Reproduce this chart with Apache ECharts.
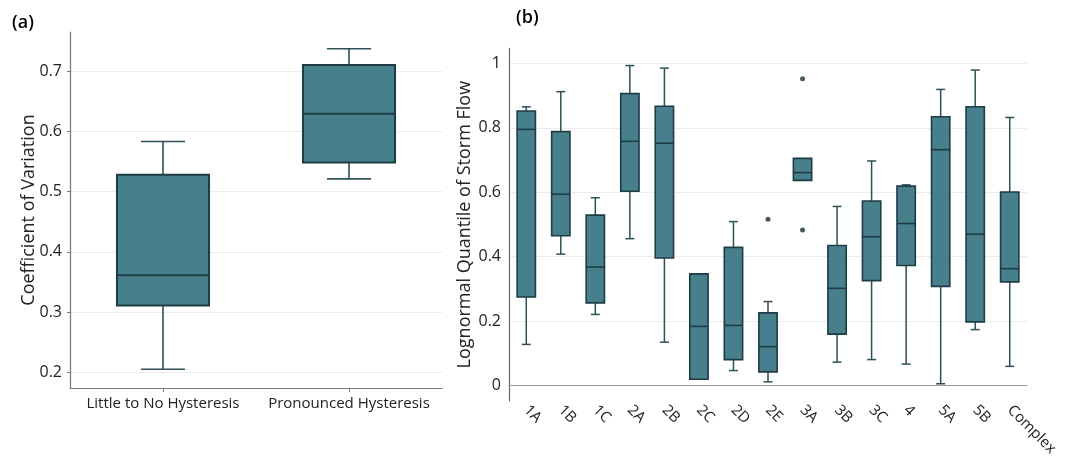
<!DOCTYPE html>
<html>
<head>
<meta charset="utf-8">
<script src="https://cdn.jsdelivr.net/npm/echarts@6/dist/echarts.min.js"></script>
<style>
  html, body { margin: 0; padding: 0; background: #fff; }
  #chart { width: 1065px; height: 459px; }
</style>
</head>
<body>
<div id="chart"></div>
<script>
// Panel (a): coefficient of variation by hysteresis class
const hystCategories = ['Little to No Hysteresis', 'Pronounced Hysteresis'];
const cvMin    = [0.205, 0.521];
const cvQ1     = [0.311, 0.548];
const cvMedian = [0.361, 0.629];
const cvQ3     = [0.528, 0.710];
const cvMax    = [0.583, 0.737];
const cvTicks  = [0.2, 0.3, 0.4, 0.5, 0.6, 0.7];

// Panel (b): lognormal quantile of storm flow by hysteresis group
const groupCategories = ['1A', '1B', '1C', '2A', '2B', '2C', '2D', '2E', '3A', '3B', '3C', '4', '5A', '5B', 'Complex'];
const qMin    = [0.128, 0.408, 0.221, 0.456, 0.135, 0.020, 0.047, 0.012, 0.637, 0.073, 0.081, 0.067, 0.006, 0.174, 0.060];
const qQ1     = [0.275, 0.465, 0.257, 0.603, 0.396, 0.020, 0.081, 0.043, 0.637, 0.160, 0.326, 0.373, 0.308, 0.198, 0.322];
const qMedian = [0.795, 0.594, 0.368, 0.758, 0.752, 0.184, 0.187, 0.121, 0.661, 0.302, 0.462, 0.503, 0.732, 0.470, 0.363];
const qQ3     = [0.852, 0.788, 0.529, 0.906, 0.867, 0.347, 0.429, 0.226, 0.705, 0.435, 0.573, 0.619, 0.834, 0.865, 0.601];
const qMax    = [0.865, 0.912, 0.583, 0.993, 0.985, 0.347, 0.509, 0.261, 0.705, 0.556, 0.697, 0.623, 0.919, 0.979, 0.832];
const qOutlierGroups = ['2E', '3A', '3A'];
const qOutlierValues = [0.516, 0.952, 0.483];
const qTicks = [0, 0.2, 0.4, 0.6, 0.8, 1];

const FONT = '"Open Sans", "Noto Sans", sans-serif';
const BOX_FILL = '#47808c';
const BOX_EDGE = '#1d3c44';
const WHISKER = '#2f4f57';

function toRows(mins, q1s, meds, q3s, maxs) {
  return mins.map((v, i) => [i, v, q1s[i], meds[i], q3s[i], maxs[i]]);
}

// Box with half-width whisker caps, drawn through the axis scales
function boxRenderer(boxRatio, capRatio, edgeWidth, whiskerWidth) {
  return function (params, api) {
    const c = api.value(0);
    const pMin = api.coord([c, api.value(1)]);
    const pQ1 = api.coord([c, api.value(2)]);
    const pMed = api.coord([c, api.value(3)]);
    const pQ3 = api.coord([c, api.value(4)]);
    const pMax = api.coord([c, api.value(5)]);
    const band = api.size([1, 0])[0];
    const bw = band * boxRatio;
    const cw = band * capRatio;
    const x = pMed[0];
    const wStyle = { stroke: WHISKER, lineWidth: whiskerWidth };
    const children = [];
    if (api.value(5) > api.value(4)) {
      children.push({ type: 'line', shape: { x1: x, y1: pMax[1], x2: x, y2: pQ3[1] }, style: wStyle });
      children.push({ type: 'line', shape: { x1: x - cw / 2, y1: pMax[1], x2: x + cw / 2, y2: pMax[1] }, style: wStyle });
    }
    if (api.value(1) < api.value(2)) {
      children.push({ type: 'line', shape: { x1: x, y1: pQ1[1], x2: x, y2: pMin[1] }, style: wStyle });
      children.push({ type: 'line', shape: { x1: x - cw / 2, y1: pMin[1], x2: x + cw / 2, y2: pMin[1] }, style: wStyle });
    }
    children.push({
      type: 'rect',
      shape: { x: x - bw / 2, y: pQ3[1], width: bw, height: pQ1[1] - pQ3[1] },
      style: { fill: BOX_FILL, stroke: BOX_EDGE, lineWidth: edgeWidth }
    });
    children.push({
      type: 'line',
      shape: { x1: x - bw / 2, y1: pMed[1], x2: x + bw / 2, y2: pMed[1] },
      style: { stroke: BOX_EDGE, lineWidth: edgeWidth }
    });
    return { type: 'group', children: children };
  };
}

const chart = echarts.init(document.getElementById('chart'), null, { renderer: 'canvas' });

const xLabelStyle = { color: '#222', fontSize: 15, fontFamily: FONT };
const yLabelStyle = { color: '#222', fontSize: 16, fontFamily: FONT };
const panelTitle = { fontSize: 18, fontWeight: 600, color: '#000', fontFamily: FONT };

chart.setOption({
  backgroundColor: '#fff',
  animation: false,
  title: [
    { text: '(a)', left: 12, top: 14, padding: 0, textStyle: panelTitle },
    { text: '(b)', left: 516, top: 9, padding: 0, textStyle: panelTitle }
  ],
  grid: [
    // (a) data area spans the labelled range, frame spans the full axes
    { left: 70, top: 71, width: 372, height: 301.3 },
    { left: 70, top: 32, width: 372, height: 356 },
    // (b)
    { left: 509, top: 63.3, width: 518, height: 322.4 },
    { left: 509, top: 48.3, width: 518, height: 352.7 }
  ],
  xAxis: [
    { type: 'category', gridIndex: 0, data: hystCategories, show: false },
    {
      type: 'category', gridIndex: 1, data: hystCategories,
      axisLine: { lineStyle: { color: '#777', width: 1.2 } },
      axisTick: { show: true, length: 4, lineStyle: { color: '#777' }, alignWithLabel: true },
      axisLabel: Object.assign({ margin: 8, interval: 0 }, xLabelStyle),
      splitLine: { show: false }
    },
    {
      type: 'category', gridIndex: 2, data: groupCategories,
      axisLine: { lineStyle: { color: '#999', width: 1.2 } },
      axisTick: { show: false },
      axisLabel: Object.assign({ margin: 22, rotate: -45, interval: 0 }, xLabelStyle),
      splitLine: { show: false }
    },
    { type: 'category', gridIndex: 3, data: groupCategories, show: false }
  ],
  yAxis: [
    {
      type: 'value', gridIndex: 0,
      min: cvTicks[0], max: cvTicks[cvTicks.length - 1], interval: 0.1,
      axisLine: { show: false },
      axisTick: { show: true, length: 3, lineStyle: { color: '#777' } },
      axisLabel: Object.assign({ margin: 8 }, yLabelStyle),
      splitLine: { show: true, lineStyle: { color: '#ececec', width: 1 } }
    },
    {
      type: 'value', gridIndex: 1,
      axisLine: { show: true, lineStyle: { color: '#777', width: 1.2 } },
      axisTick: { show: false }, axisLabel: { show: false }, splitLine: { show: false },
      name: 'Coefficient of Variation', nameLocation: 'middle', nameGap: 32, nameRotate: 90,
      nameTextStyle: { fontSize: 18, color: '#222', fontFamily: FONT }
    },
    {
      type: 'value', gridIndex: 2,
      min: qTicks[0], max: qTicks[qTicks.length - 1], interval: 0.2,
      axisLine: { show: false },
      axisTick: { show: false },
      axisLabel: Object.assign({ margin: 8 }, yLabelStyle),
      splitLine: { show: true, lineStyle: { color: '#ececec', width: 1 } }
    },
    {
      type: 'value', gridIndex: 3,
      axisLine: { show: true, lineStyle: { color: '#666', width: 1.2 } },
      axisTick: { show: false }, axisLabel: { show: false }, splitLine: { show: false },
      name: 'Lognormal Quantile of Storm Flow', nameLocation: 'middle', nameGap: 35, nameRotate: 90,
      nameTextStyle: { fontSize: 18, color: '#222', fontFamily: FONT }
    }
  ],
  series: [
    {
      type: 'custom', xAxisIndex: 0, yAxisIndex: 0,
      renderItem: boxRenderer(0.495, 0.237, 2, 1.6),
      encode: { x: 0, y: [1, 2, 3, 4, 5] },
      data: toRows(cvMin, cvQ1, cvMedian, cvQ3, cvMax)
    },
    {
      type: 'custom', xAxisIndex: 2, yAxisIndex: 2,
      renderItem: boxRenderer(0.53, 0.26, 1.6, 1.5),
      encode: { x: 0, y: [1, 2, 3, 4, 5] },
      data: toRows(qMin, qQ1, qMedian, qQ3, qMax)
    },
    {
      type: 'scatter', xAxisIndex: 2, yAxisIndex: 2,
      symbol: 'circle', symbolSize: 5,
      itemStyle: { color: '#1a2f36' },
      data: qOutlierGroups.map((g, i) => [groupCategories.indexOf(g), qOutlierValues[i]])
    }
  ]
});
</script>
</body>
</html>
